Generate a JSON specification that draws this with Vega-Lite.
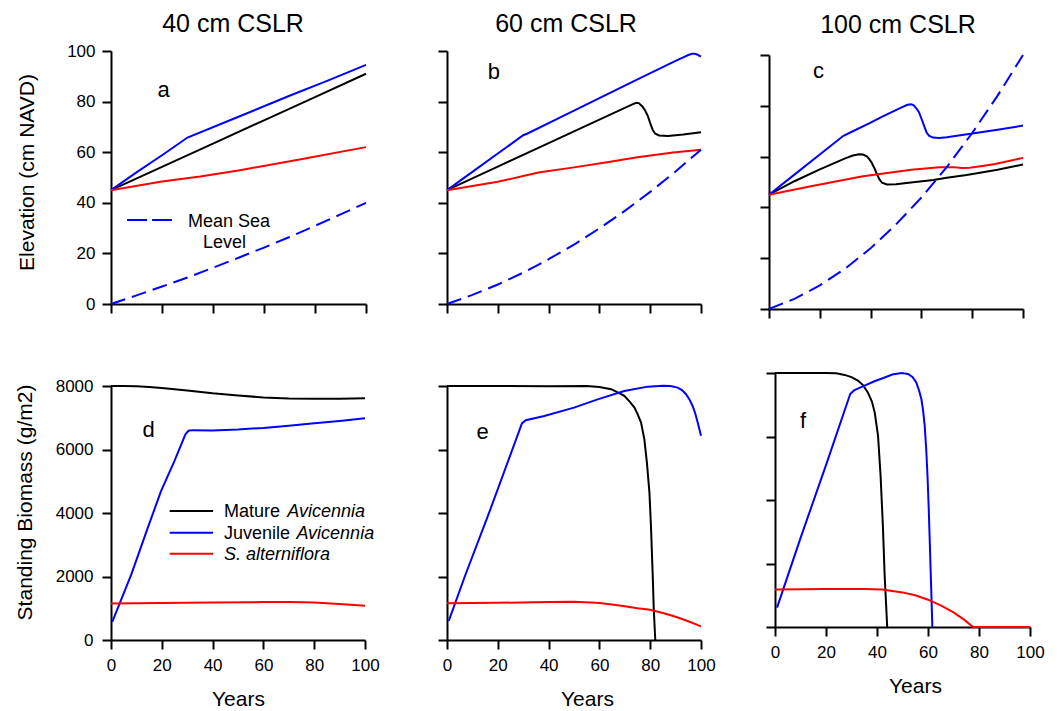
{
  "$schema": "https://vega.github.io/schema/vega-lite/v6.json",
  "background": "white",
  "padding": {"left": 14, "top": 11, "right": 5, "bottom": 0},
  "config": {
    "font": "Liberation Sans",
    "view": {"stroke": null},
    "axis": {"grid": false, "domainColor": "#000", "domainWidth": 2, "tickColor": "#000", "tickWidth": 2, "tickSize": 9, "labelColor": "#000", "labelFontSize": 17, "labelFont": "Liberation Sans", "titleFont": "Liberation Sans", "titleFontWeight": "normal", "titleFontSize": 21, "titleColor": "#000", "labelPadding": 7, "labelFlush": false, "labelOverlap": false},
    "title": {"font": "Liberation Sans", "fontSize": 25, "fontWeight": "normal", "color": "#000", "anchor": "middle", "baseline": "alphabetic", "offset": 13, "frame": "group"},
    "text": {"font": "Liberation Sans", "color": "#000"}
  },
  "datasets": {
    "elev": [
      {"panel":"a","series":"mature","year":0,"value":45},{"panel":"a","series":"mature","year":20,"value":54.2},{"panel":"a","series":"mature","year":40,"value":63.4},{"panel":"a","series":"mature","year":60,"value":72.6},{"panel":"a","series":"mature","year":80,"value":81.8},{"panel":"a","series":"mature","year":100,"value":91},
      {"panel":"a","series":"juvenile","year":0,"value":45},{"panel":"a","series":"juvenile","year":10,"value":52},{"panel":"a","series":"juvenile","year":20,"value":58.8},{"panel":"a","series":"juvenile","year":30,"value":65.8},{"panel":"a","series":"juvenile","year":50,"value":74},{"panel":"a","series":"juvenile","year":70,"value":82.3},{"panel":"a","series":"juvenile","year":85,"value":88.3},{"panel":"a","series":"juvenile","year":100,"value":94.5},
      {"panel":"a","series":"spartina","year":0,"value":45},{"panel":"a","series":"spartina","year":20,"value":48.4},{"panel":"a","series":"spartina","year":35,"value":50.4},{"panel":"a","series":"spartina","year":50,"value":52.8},{"panel":"a","series":"spartina","year":75,"value":57.3},{"panel":"a","series":"spartina","year":100,"value":62},
      {"panel":"a","series":"msl","year":0,"value":0},{"panel":"a","series":"msl","year":10,"value":3.4},{"panel":"a","series":"msl","year":20,"value":6.9},{"panel":"a","series":"msl","year":30,"value":10.5},{"panel":"a","series":"msl","year":40,"value":14.3},{"panel":"a","series":"msl","year":50,"value":18.3},{"panel":"a","series":"msl","year":60,"value":22.3},{"panel":"a","series":"msl","year":70,"value":26.5},{"panel":"a","series":"msl","year":80,"value":30.9},{"panel":"a","series":"msl","year":90,"value":35.4},{"panel":"a","series":"msl","year":100,"value":40},
      {"panel":"b","series":"mature","year":0,"value":45},{"panel":"b","series":"mature","year":20,"value":54.3},{"panel":"b","series":"mature","year":40,"value":63.6},{"panel":"b","series":"mature","year":60,"value":72.9},{"panel":"b","series":"mature","year":70,"value":77.5},{"panel":"b","series":"mature","year":73,"value":78.9},{"panel":"b","series":"mature","year":74.5,"value":79.5},{"panel":"b","series":"mature","year":75.5,"value":79.4},{"panel":"b","series":"mature","year":77,"value":78},{"panel":"b","series":"mature","year":78,"value":76.5},{"panel":"b","series":"mature","year":79,"value":74.5},{"panel":"b","series":"mature","year":80,"value":71.5},{"panel":"b","series":"mature","year":81,"value":68.8},{"panel":"b","series":"mature","year":82,"value":67.3},{"panel":"b","series":"mature","year":83.5,"value":66.6},{"panel":"b","series":"mature","year":87,"value":66.4},{"panel":"b","series":"mature","year":93,"value":67},{"panel":"b","series":"mature","year":100,"value":67.9},
      {"panel":"b","series":"juvenile","year":0,"value":45},{"panel":"b","series":"juvenile","year":10,"value":52.2},{"panel":"b","series":"juvenile","year":20,"value":59.5},{"panel":"b","series":"juvenile","year":30,"value":66.7},{"panel":"b","series":"juvenile","year":31.5,"value":67.3},{"panel":"b","series":"juvenile","year":45,"value":74},{"panel":"b","series":"juvenile","year":60,"value":81.4},{"panel":"b","series":"juvenile","year":75,"value":88.8},{"panel":"b","series":"juvenile","year":90,"value":96.1},{"panel":"b","series":"juvenile","year":93,"value":97.5},{"panel":"b","series":"juvenile","year":95,"value":98.4},{"panel":"b","series":"juvenile","year":96.5,"value":98.9},{"panel":"b","series":"juvenile","year":97.5,"value":98.9},{"panel":"b","series":"juvenile","year":98.5,"value":98.6},{"panel":"b","series":"juvenile","year":100,"value":97.8},
      {"panel":"b","series":"spartina","year":0,"value":45},{"panel":"b","series":"spartina","year":20,"value":48.3},{"panel":"b","series":"spartina","year":36,"value":52},{"panel":"b","series":"spartina","year":50,"value":54},{"panel":"b","series":"spartina","year":63,"value":56},{"panel":"b","series":"spartina","year":75,"value":58},{"panel":"b","series":"spartina","year":89,"value":59.9},{"panel":"b","series":"spartina","year":100,"value":61},
      {"panel":"b","series":"msl","year":0,"value":0},{"panel":"b","series":"msl","year":10,"value":3.6},{"panel":"b","series":"msl","year":20,"value":7.7},{"panel":"b","series":"msl","year":30,"value":12.4},{"panel":"b","series":"msl","year":40,"value":17.7},{"panel":"b","series":"msl","year":50,"value":23.5},{"panel":"b","series":"msl","year":60,"value":29.9},{"panel":"b","series":"msl","year":70,"value":36.8},{"panel":"b","series":"msl","year":80,"value":44.3},{"panel":"b","series":"msl","year":90,"value":52.4},{"panel":"b","series":"msl","year":100,"value":61},
      {"panel":"c","series":"mature","year":0,"value":45},{"panel":"c","series":"mature","year":10,"value":50.3},{"panel":"c","series":"mature","year":20,"value":55},{"panel":"c","series":"mature","year":30,"value":59.3},{"panel":"c","series":"mature","year":33,"value":60.4},{"panel":"c","series":"mature","year":35.5,"value":60.9},{"panel":"c","series":"mature","year":37,"value":60.8},{"panel":"c","series":"mature","year":38.5,"value":60.1},{"panel":"c","series":"mature","year":39.5,"value":59},{"panel":"c","series":"mature","year":40.5,"value":57.5},{"panel":"c","series":"mature","year":41.5,"value":55.4},{"panel":"c","series":"mature","year":42.5,"value":53.1},{"panel":"c","series":"mature","year":43.5,"value":51},{"panel":"c","series":"mature","year":44.5,"value":49.7},{"panel":"c","series":"mature","year":46.4,"value":49},{"panel":"c","series":"mature","year":50,"value":49.1},{"panel":"c","series":"mature","year":55,"value":49.7},{"panel":"c","series":"mature","year":64.7,"value":50.8},{"panel":"c","series":"mature","year":70,"value":51.7},{"panel":"c","series":"mature","year":77.8,"value":52.8},{"panel":"c","series":"mature","year":90,"value":54.8},{"panel":"c","series":"mature","year":100,"value":56.9},
      {"panel":"c","series":"juvenile","year":0,"value":45},{"panel":"c","series":"juvenile","year":10,"value":52.9},{"panel":"c","series":"juvenile","year":20,"value":60.8},{"panel":"c","series":"juvenile","year":29.3,"value":68.2},{"panel":"c","series":"juvenile","year":31,"value":69},{"panel":"c","series":"juvenile","year":40,"value":73.4},{"panel":"c","series":"juvenile","year":45,"value":75.9},{"panel":"c","series":"juvenile","year":52,"value":79.3},{"panel":"c","series":"juvenile","year":54.5,"value":80.4},{"panel":"c","series":"juvenile","year":56,"value":80.6},{"panel":"c","series":"juvenile","year":57,"value":80.2},{"panel":"c","series":"juvenile","year":58,"value":79},{"panel":"c","series":"juvenile","year":59,"value":77.6},{"panel":"c","series":"juvenile","year":60,"value":75},{"panel":"c","series":"juvenile","year":61,"value":72.3},{"panel":"c","series":"juvenile","year":62,"value":69.6},{"panel":"c","series":"juvenile","year":63,"value":68.2},{"panel":"c","series":"juvenile","year":64.5,"value":67.5},{"panel":"c","series":"juvenile","year":67,"value":67.3},{"panel":"c","series":"juvenile","year":70,"value":67.6},{"panel":"c","series":"juvenile","year":78.7,"value":68.9},{"panel":"c","series":"juvenile","year":90,"value":70.6},{"panel":"c","series":"juvenile","year":100,"value":72.2},
      {"panel":"c","series":"spartina","year":0,"value":45},{"panel":"c","series":"spartina","year":17,"value":48.4},{"panel":"c","series":"spartina","year":37,"value":52.3},{"panel":"c","series":"spartina","year":56,"value":54.8},{"panel":"c","series":"spartina","year":67,"value":55.8},{"panel":"c","series":"spartina","year":73,"value":55.8},{"panel":"c","series":"spartina","year":76,"value":55.5},{"panel":"c","series":"spartina","year":79,"value":55.6},{"panel":"c","series":"spartina","year":84,"value":56.3},{"panel":"c","series":"spartina","year":89,"value":57.1},{"panel":"c","series":"spartina","year":100,"value":59.5},
      {"panel":"c","series":"msl","year":0,"value":0},{"panel":"c","series":"msl","year":10,"value":4},{"panel":"c","series":"msl","year":20,"value":9.3},{"panel":"c","series":"msl","year":30,"value":15.9},{"panel":"c","series":"msl","year":40,"value":23.9},{"panel":"c","series":"msl","year":50,"value":33.3},{"panel":"c","series":"msl","year":60,"value":43.9},{"panel":"c","series":"msl","year":70,"value":55.9},{"panel":"c","series":"msl","year":80,"value":69.3},{"panel":"c","series":"msl","year":90,"value":84},{"panel":"c","series":"msl","year":100,"value":100}
    ],
    "bio": [
      {"panel":"d","series":"mature","year":0,"value":8000},{"panel":"d","series":"mature","year":5,"value":8000},{"panel":"d","series":"mature","year":10,"value":7990},{"panel":"d","series":"mature","year":15,"value":7970},{"panel":"d","series":"mature","year":20,"value":7940},{"panel":"d","series":"mature","year":30,"value":7860},{"panel":"d","series":"mature","year":40,"value":7770},{"panel":"d","series":"mature","year":50,"value":7700},{"panel":"d","series":"mature","year":60,"value":7640},{"panel":"d","series":"mature","year":70,"value":7610},{"panel":"d","series":"mature","year":80,"value":7600},{"panel":"d","series":"mature","year":90,"value":7600},{"panel":"d","series":"mature","year":100,"value":7615},
      {"panel":"d","series":"juvenile","year":0.5,"value":570},{"panel":"d","series":"juvenile","year":8,"value":2070},{"panel":"d","series":"juvenile","year":14.5,"value":3540},{"panel":"d","series":"juvenile","year":19.7,"value":4690},{"panel":"d","series":"juvenile","year":25,"value":5640},{"panel":"d","series":"juvenile","year":29.3,"value":6480},{"panel":"d","series":"juvenile","year":30.5,"value":6590},{"panel":"d","series":"juvenile","year":32,"value":6610},{"panel":"d","series":"juvenile","year":40,"value":6600},{"panel":"d","series":"juvenile","year":50,"value":6630},{"panel":"d","series":"juvenile","year":60,"value":6680},{"panel":"d","series":"juvenile","year":70,"value":6750},{"panel":"d","series":"juvenile","year":80,"value":6830},{"panel":"d","series":"juvenile","year":90,"value":6900},{"panel":"d","series":"juvenile","year":100,"value":6985},
      {"panel":"d","series":"spartina","year":0,"value":1150},{"panel":"d","series":"spartina","year":20,"value":1165},{"panel":"d","series":"spartina","year":40,"value":1180},{"panel":"d","series":"spartina","year":60,"value":1195},{"panel":"d","series":"spartina","year":70,"value":1200},{"panel":"d","series":"spartina","year":80,"value":1180},{"panel":"d","series":"spartina","year":90,"value":1130},{"panel":"d","series":"spartina","year":100,"value":1075},
      {"panel":"e","series":"mature","year":0,"value":8000},{"panel":"e","series":"mature","year":20,"value":8000},{"panel":"e","series":"mature","year":40,"value":7990},{"panel":"e","series":"mature","year":55,"value":8000},{"panel":"e","series":"mature","year":60,"value":7970},{"panel":"e","series":"mature","year":64.6,"value":7900},{"panel":"e","series":"mature","year":67,"value":7810},{"panel":"e","series":"mature","year":69.8,"value":7690},{"panel":"e","series":"mature","year":72,"value":7500},{"panel":"e","series":"mature","year":73.8,"value":7320},{"panel":"e","series":"mature","year":75,"value":7120},{"panel":"e","series":"mature","year":76.4,"value":6850},{"panel":"e","series":"mature","year":77.7,"value":6320},{"panel":"e","series":"mature","year":78.7,"value":5590},{"panel":"e","series":"mature","year":79.7,"value":4640},{"panel":"e","series":"mature","year":80.3,"value":3590},{"panel":"e","series":"mature","year":81,"value":2020},{"panel":"e","series":"mature","year":81.4,"value":970},{"panel":"e","series":"mature","year":82,"value":0},
      {"panel":"e","series":"juvenile","year":0.7,"value":600},{"panel":"e","series":"juvenile","year":7,"value":2000},{"panel":"e","series":"juvenile","year":17,"value":4100},{"panel":"e","series":"juvenile","year":29.5,"value":6820},{"panel":"e","series":"juvenile","year":31,"value":6920},{"panel":"e","series":"juvenile","year":38.3,"value":7056},{"panel":"e","series":"juvenile","year":50,"value":7320},{"panel":"e","series":"juvenile","year":59.3,"value":7580},{"panel":"e","series":"juvenile","year":69.8,"value":7840},{"panel":"e","series":"juvenile","year":79,"value":7980},{"panel":"e","series":"juvenile","year":85,"value":8010},{"panel":"e","series":"juvenile","year":88,"value":8000},{"panel":"e","series":"juvenile","year":90.8,"value":7950},{"panel":"e","series":"juvenile","year":92.5,"value":7870},{"panel":"e","series":"juvenile","year":94.1,"value":7740},{"panel":"e","series":"juvenile","year":95.5,"value":7570},{"panel":"e","series":"juvenile","year":96.7,"value":7370},{"panel":"e","series":"juvenile","year":97.8,"value":7120},{"panel":"e","series":"juvenile","year":98.7,"value":6850},{"panel":"e","series":"juvenile","year":100,"value":6430},
      {"panel":"e","series":"spartina","year":0,"value":1155},{"panel":"e","series":"spartina","year":20,"value":1170},{"panel":"e","series":"spartina","year":40,"value":1200},{"panel":"e","series":"spartina","year":50,"value":1205},{"panel":"e","series":"spartina","year":56.7,"value":1180},{"panel":"e","series":"spartina","year":60,"value":1165},{"panel":"e","series":"spartina","year":65,"value":1120},{"panel":"e","series":"spartina","year":70,"value":1060},{"panel":"e","series":"spartina","year":75,"value":1000},{"panel":"e","series":"spartina","year":80,"value":950},{"panel":"e","series":"spartina","year":85,"value":850},{"panel":"e","series":"spartina","year":90,"value":730},{"panel":"e","series":"spartina","year":95,"value":590},{"panel":"e","series":"spartina","year":100,"value":430},
      {"panel":"f","series":"mature","year":0,"value":8000},{"panel":"f","series":"mature","year":20,"value":8000},{"panel":"f","series":"mature","year":24,"value":7990},{"panel":"f","series":"mature","year":27.3,"value":7940},{"panel":"f","series":"mature","year":30,"value":7870},{"panel":"f","series":"mature","year":32.5,"value":7760},{"panel":"f","series":"mature","year":34.5,"value":7620},{"panel":"f","series":"mature","year":36.4,"value":7390},{"panel":"f","series":"mature","year":38,"value":7100},{"panel":"f","series":"mature","year":39.1,"value":6760},{"panel":"f","series":"mature","year":40.4,"value":6030},{"panel":"f","series":"mature","year":41.4,"value":4770},{"panel":"f","series":"mature","year":42.3,"value":3200},{"panel":"f","series":"mature","year":43,"value":1630},{"panel":"f","series":"mature","year":44,"value":0},
      {"panel":"f","series":"juvenile","year":0.8,"value":610},{"panel":"f","series":"juvenile","year":10,"value":2800},{"panel":"f","series":"juvenile","year":20,"value":5100},{"panel":"f","series":"juvenile","year":29.5,"value":7340},{"panel":"f","series":"juvenile","year":31,"value":7450},{"panel":"f","series":"juvenile","year":35.1,"value":7600},{"panel":"f","series":"juvenile","year":39,"value":7740},{"panel":"f","series":"juvenile","year":43,"value":7860},{"panel":"f","series":"juvenile","year":46,"value":7950},{"panel":"f","series":"juvenile","year":49.5,"value":8000},{"panel":"f","series":"juvenile","year":52.2,"value":7970},{"panel":"f","series":"juvenile","year":54,"value":7870},{"panel":"f","series":"juvenile","year":55.4,"value":7700},{"panel":"f","series":"juvenile","year":56.5,"value":7450},{"panel":"f","series":"juvenile","year":57.4,"value":7180},{"panel":"f","series":"juvenile","year":58.1,"value":6800},{"panel":"f","series":"juvenile","year":58.7,"value":6340},{"panel":"f","series":"juvenile","year":59.3,"value":5600},{"panel":"f","series":"juvenile","year":59.8,"value":4770},{"panel":"f","series":"juvenile","year":60.3,"value":3700},{"panel":"f","series":"juvenile","year":60.7,"value":2670},{"panel":"f","series":"juvenile","year":61.3,"value":1100},{"panel":"f","series":"juvenile","year":61.7,"value":0},
      {"panel":"f","series":"spartina","year":0,"value":1185},{"panel":"f","series":"spartina","year":20,"value":1195},{"panel":"f","series":"spartina","year":35,"value":1200},{"panel":"f","series":"spartina","year":42,"value":1180},{"panel":"f","series":"spartina","year":50,"value":1090},{"panel":"f","series":"spartina","year":55,"value":1000},{"panel":"f","series":"spartina","year":60,"value":860},{"panel":"f","series":"spartina","year":65,"value":680},{"panel":"f","series":"spartina","year":70,"value":460},{"panel":"f","series":"spartina","year":74,"value":240},{"panel":"f","series":"spartina","year":77.7,"value":0},{"panel":"f","series":"spartina","year":100,"value":0}
    ],
    "notes": [
      {"panel":"a","kind":"letter","text":"a","year":20.6,"value":81.8},
      {"panel":"b","kind":"letter","text":"b","year":18.5,"value":88.9},
      {"panel":"c","kind":"letter","text":"c","year":19.5,"value":90.8},
      {"panel":"d","kind":"letter","text":"d","year":14.8,"value":6394},
      {"panel":"e","kind":"letter","text":"e","year":14,"value":6340},
      {"panel":"f","kind":"letter","text":"f","year":11,"value":6268},
      {"panel":"a","kind":"label","text":"Mean Sea","year":30.2,"value":30.6},
      {"panel":"a","kind":"label","text":"Level","year":36.1,"value":22.1},
      {"panel":"a","kind":"dash","year":6.3,"year2":23.9,"value":33.2},
      {"panel":"d","kind":"sample","series":"mature","year":23.1,"year2":40.2,"value":4063},
      {"panel":"d","kind":"sample","series":"juvenile","year":23.1,"year2":40.2,"value":3380},
      {"panel":"d","kind":"sample","series":"spartina","year":23.1,"year2":40.2,"value":2718},
      {"panel":"d","kind":"label","text":"Mature","year":44.5,"value":3865},
      {"panel":"d","kind":"label","text":"Juvenile","year":44.5,"value":3184},
      {"panel":"d","kind":"italic","text":"Avicennia","year":69.4,"value":3865},
      {"panel":"d","kind":"italic","text":"Avicennia","year":73.0,"value":3184},
      {"panel":"d","kind":"italic","text":"S. alterniflora","year":44.5,"value":2504}
    ]
  },
  "columns": 3,
  "bounds": "flush",
  "align": "each",
  "spacing": {"row": 64, "column": 68},
  "concat": [
    {
      "width": 268, "height": 253,
      "title": {"text": "40 cm CSLR", "dx": -12, "dy": 8},
      "encoding": {
        "x": {"field": "year", "type": "quantitative", "scale": {"domain": [0, 100], "nice": false, "range": [0, 255]}, "axis": {"values": [0, 20, 40, 60, 80, 100], "labels": false, "title": null}},
        "y": {"field": "value", "type": "quantitative", "scale": {"domain": [0, 100], "nice": false}, "axis": {"values": [0, 20, 40, 60, 80, 100], "title": "Elevation (cm NAVD)", "titlePadding": 29, "titleY": 121, "labelPadding": 7}}
      },
      "layer": [
        {"data": {"name": "elev"}, "transform": [{"filter": "datum.panel == 'a' && datum.series != 'msl'"}], "mark": {"type": "line", "strokeWidth": 2}, "encoding": {"color": {"field": "series", "type": "nominal", "scale": {"domain": ["mature", "juvenile", "spartina"], "range": ["#000000", "#0000ff", "#ff0000"]}, "legend": null}}},
        {"data": {"name": "elev"}, "transform": [{"filter": "datum.panel == 'a' && datum.series == 'msl'"}], "mark": {"type": "line", "strokeWidth": 2, "color": "#0000ff", "strokeDash": [15, 7]}, "encoding": {}},
        {"data": {"name": "notes"}, "transform": [{"filter": "datum.panel == 'a' && datum.kind == 'dash'"}], "mark": {"type": "rule", "strokeWidth": 2, "color": "#0000ff", "strokeDash": [20, 5]}, "encoding": {"x2": {"field": "year2"}}},
        {"data": {"name": "notes"}, "transform": [{"filter": "datum.panel == 'a' && datum.kind == 'label'"}], "mark": {"type": "text", "fontSize": 18, "align": "left", "baseline": "alphabetic"}, "encoding": {"text": {"field": "text", "type": "nominal"}}},
        {"data": {"name": "notes"}, "transform": [{"filter": "datum.panel == 'a' && datum.kind == 'letter'"}], "mark": {"type": "text", "fontSize": 22, "align": "center", "baseline": "alphabetic"}, "encoding": {"text": {"field": "text", "type": "nominal"}}}
      ]
    },
    {
      "width": 254, "height": 253,
      "title": {"text": "60 cm CSLR", "dx": -8},
      "encoding": {
        "x": {"field": "year", "type": "quantitative", "scale": {"domain": [0, 100], "nice": false}, "axis": {"values": [0, 20, 40, 60, 80, 100], "labels": false, "title": null}},
        "y": {"field": "value", "type": "quantitative", "scale": {"domain": [0, 100], "nice": false}, "axis": {"values": [0, 20, 40, 60, 80, 100], "labels": false, "title": null}}
      },
      "layer": [
        {"data": {"name": "elev"}, "transform": [{"filter": "datum.panel == 'b' && datum.series != 'msl'"}], "mark": {"type": "line", "strokeWidth": 2}, "encoding": {"color": {"field": "series", "type": "nominal", "scale": {"domain": ["mature", "juvenile", "spartina"], "range": ["#000000", "#0000ff", "#ff0000"]}, "legend": null}}},
        {"data": {"name": "elev"}, "transform": [{"filter": "datum.panel == 'b' && datum.series == 'msl'"}], "mark": {"type": "line", "strokeWidth": 2, "color": "#0000ff", "strokeDash": [15, 7]}, "encoding": {}},
        {"data": {"name": "notes"}, "transform": [{"filter": "datum.panel == 'b' && datum.kind == 'letter'"}], "mark": {"type": "text", "fontSize": 22, "align": "center", "baseline": "alphabetic"}, "encoding": {"text": {"field": "text", "type": "nominal"}}}
      ]
    },
    {
      "width": 254, "height": 258,
      "title": {"text": "100 cm CSLR", "dx": 2},
      "encoding": {
        "x": {"field": "year", "type": "quantitative", "scale": {"domain": [0, 100], "nice": false}, "axis": {"values": [0, 20, 40, 60, 80, 100], "labels": false, "title": null}},
        "y": {"field": "value", "type": "quantitative", "scale": {"domain": [0, 100], "nice": false, "range": [258, 4]}, "axis": {"values": [0, 20, 40, 60, 80, 100], "labels": false, "title": null}}
      },
      "layer": [
        {"data": {"name": "elev"}, "transform": [{"filter": "datum.panel == 'c' && datum.series != 'msl'"}], "mark": {"type": "line", "strokeWidth": 2}, "encoding": {"color": {"field": "series", "type": "nominal", "scale": {"domain": ["mature", "juvenile", "spartina"], "range": ["#000000", "#0000ff", "#ff0000"]}, "legend": null}}},
        {"data": {"name": "elev"}, "transform": [{"filter": "datum.panel == 'c' && datum.series == 'msl'"}], "mark": {"type": "line", "strokeWidth": 2, "color": "#0000ff", "strokeDash": [15, 7]}, "encoding": {}},
        {"data": {"name": "notes"}, "transform": [{"filter": "datum.panel == 'c' && datum.kind == 'letter'"}], "mark": {"type": "text", "fontSize": 22, "align": "center", "baseline": "alphabetic"}, "encoding": {"text": {"field": "text", "type": "nominal"}}}
      ]
    },
    {
      "width": 254, "height": 267,
      "encoding": {
        "x": {"field": "year", "type": "quantitative", "scale": {"domain": [0, 100], "nice": false}, "axis": {"values": [0, 20, 40, 60, 80, 100], "title": "Years", "labelPadding": 8, "titlePadding": 15}},
        "y": {"field": "value", "type": "quantitative", "scale": {"domain": [0, 8000], "nice": false, "range": [267, 13]}, "axis": {"values": [0, 2000, 4000, 6000, 8000], "format": "d", "title": "Standing Biomass (g/m2)", "titlePadding": 20, "titleY": 129, "labelPadding": 9}}
      },
      "layer": [
        {"data": {"name": "bio"}, "transform": [{"filter": "datum.panel == 'd'"}], "mark": {"type": "line", "strokeWidth": 2}, "encoding": {"color": {"field": "series", "type": "nominal", "scale": {"domain": ["mature", "juvenile", "spartina"], "range": ["#000000", "#0000ff", "#ff0000"]}, "legend": null}}},
        {"data": {"name": "notes"}, "transform": [{"filter": "datum.panel == 'd' && datum.kind == 'sample'"}], "mark": {"type": "rule", "strokeWidth": 2}, "encoding": {"x2": {"field": "year2"}, "color": {"field": "series", "type": "nominal", "scale": {"domain": ["mature", "juvenile", "spartina"], "range": ["#000000", "#0000ff", "#ff0000"]}, "legend": null}}},
        {"data": {"name": "notes"}, "transform": [{"filter": "datum.panel == 'd' && datum.kind == 'label'"}], "mark": {"type": "text", "fontSize": 18, "align": "left", "baseline": "alphabetic"}, "encoding": {"text": {"field": "text", "type": "nominal"}}},
        {"data": {"name": "notes"}, "transform": [{"filter": "datum.panel == 'd' && datum.kind == 'italic'"}], "mark": {"type": "text", "fontSize": 18, "fontStyle": "italic", "align": "left", "baseline": "alphabetic"}, "encoding": {"text": {"field": "text", "type": "nominal"}}},
        {"data": {"name": "notes"}, "transform": [{"filter": "datum.panel == 'd' && datum.kind == 'letter'"}], "mark": {"type": "text", "fontSize": 22, "align": "center", "baseline": "alphabetic"}, "encoding": {"text": {"field": "text", "type": "nominal"}}}
      ]
    },
    {
      "width": 254, "height": 267,
      "encoding": {
        "x": {"field": "year", "type": "quantitative", "scale": {"domain": [0, 100], "nice": false}, "axis": {"values": [0, 20, 40, 60, 80, 100], "title": "Years", "titleX": 140, "labelPadding": 8, "titlePadding": 15}},
        "y": {"field": "value", "type": "quantitative", "scale": {"domain": [0, 8000], "nice": false, "range": [267, 13]}, "axis": {"values": [0, 2000, 4000, 6000, 8000], "labels": false, "title": null}}
      },
      "layer": [
        {"data": {"name": "bio"}, "transform": [{"filter": "datum.panel == 'e'"}], "mark": {"type": "line", "strokeWidth": 2}, "encoding": {"color": {"field": "series", "type": "nominal", "scale": {"domain": ["mature", "juvenile", "spartina"], "range": ["#000000", "#0000ff", "#ff0000"]}, "legend": null}}},
        {"data": {"name": "notes"}, "transform": [{"filter": "datum.panel == 'e' && datum.kind == 'letter'"}], "mark": {"type": "text", "fontSize": 22, "align": "center", "baseline": "alphabetic"}, "encoding": {"text": {"field": "text", "type": "nominal"}}}
      ]
    },
    {
      "width": 261, "height": 254,
      "encoding": {
        "x": {"field": "year", "type": "quantitative", "scale": {"domain": [0, 100], "nice": false, "range": [6, 261]}, "axis": {"values": [0, 20, 40, 60, 80, 100], "title": "Years", "titleX": 146, "labelPadding": 8, "titlePadding": 15}},
        "y": {"field": "value", "type": "quantitative", "scale": {"domain": [0, 8000], "nice": false}, "axis": {"values": [0, 2000, 4000, 6000, 8000], "labels": false, "title": null, "offset": -6}}
      },
      "layer": [
        {"data": {"name": "bio"}, "transform": [{"filter": "datum.panel == 'f'"}], "mark": {"type": "line", "strokeWidth": 2}, "encoding": {"color": {"field": "series", "type": "nominal", "scale": {"domain": ["mature", "juvenile", "spartina"], "range": ["#000000", "#0000ff", "#ff0000"]}, "legend": null}}},
        {"data": {"name": "notes"}, "transform": [{"filter": "datum.panel == 'f' && datum.kind == 'letter'"}], "mark": {"type": "text", "fontSize": 22, "align": "center", "baseline": "alphabetic"}, "encoding": {"text": {"field": "text", "type": "nominal"}}}
      ]
    }
  ]
}
